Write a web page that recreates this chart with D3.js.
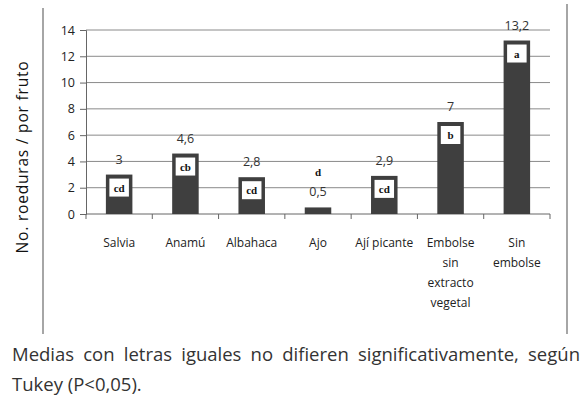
<!DOCTYPE html>
<meta charset="utf-8">
<style>
body { margin: 0; background: #fff; }
#chart { position: absolute; left: 0; top: 0; }
.nota {
  position: absolute; left: 12px; width: 568px;
  font-family: "Open Sans", sans-serif; font-size: 18.5px; line-height: 30px;
  color: #333; white-space: nowrap;
}
#nota1 { top: 339px; text-align: justify; text-align-last: justify; white-space: normal; }
#nota2 { top: 369px; }
</style>
<body>
<svg id="chart"></svg>
<div class="nota" id="nota1">Medias con letras iguales no difieren significativamente, según</div>
<div class="nota" id="nota2">Tukey (P&lt;0,05).</div>
<script src="https://d3js.org/d3.v7.min.js"></script>
<script>

var width = 586,
    height = 403;

var categorias = ["Salvia", "Anamú", "Albahaca", "Ajo", "Ají picante", "Embolse sin extracto vegetal", "Sin embolse"];
var etiquetas = [["Salvia"], ["Anamú"], ["Albahaca"], ["Ajo"], ["Ají picante"], ["Embolse", "sin", "extracto", "vegetal"], ["Sin", "embolse"]];
var valores = [3, 4.6, 2.8, 0.5, 2.9, 7, 13.2];
var letras = ["cd", "cb", "cd", "d", "cd", "b", "a"];
var yTicks = [0, 2, 4, 6, 8, 10, 12, 14];

var svg = d3.select("#chart")
    .attr("width", width)
    .attr("height", height);

var x = d3.scaleBand()
    .domain(categorias)
    .range([86, 550])
    .paddingInner(0.6)
    .paddingOuter(0.3);

var y = d3.scaleLinear()
    .domain([0, 14])
    .range([214, 30]);

// frame (only the vertical sides are visible)
svg.append("line").attr("x1", 43).attr("x2", 43).attr("y1", 8).attr("y2", 334)
    .attr("stroke", "#888").attr("stroke-width", 1.5);
svg.append("line").attr("x1", 567).attr("x2", 567).attr("y1", 4).attr("y2", 334)
    .attr("stroke", "#888").attr("stroke-width", 1.5);

// gridlines
svg.append("g")
  .selectAll("line")
  .data(yTicks.slice(1))
  .enter().append("line")
    .attr("x1", 86).attr("x2", 550)
    .attr("y1", function(d) { return y(d); })
    .attr("y2", function(d) { return y(d); })
    .attr("stroke", "#8a8a8a")
    .attr("stroke-width", 1);

// y axis
var gy = svg.append("g")
    .attr("transform", "translate(86,0)")
    .call(d3.axisLeft(y).tickValues(yTicks).tickSize(6).tickPadding(5));
gy.selectAll("text")
    .attr("font-family", "'Open Sans', sans-serif")
    .attr("font-size", 12.5).attr("fill", "#222");
gy.selectAll("line, path").attr("stroke", "#666");

// x axis with ticks at band boundaries
var bordes = d3.range(categorias.length + 1).map(function(i) { return 86 + i * (464 / categorias.length); });
svg.append("line").attr("x1", 86).attr("x2", 550).attr("y1", y(0)).attr("y2", y(0))
    .attr("stroke", "#666");
svg.append("g")
  .selectAll("line")
  .data(bordes)
  .enter().append("line")
    .attr("x1", function(d) { return d; })
    .attr("x2", function(d) { return d; })
    .attr("y1", y(0)).attr("y2", y(0) + 5)
    .attr("stroke", "#666");

// category labels
svg.append("g")
  .selectAll("text")
  .data(categorias)
  .enter().append("text")
    .attr("x", function(d) { return x(d) + x.bandwidth() / 2; })
    .attr("y", 247)
    .attr("text-anchor", "middle")
    .attr("font-family", "'Open Sans', sans-serif")
    .attr("font-size", 12)
    .attr("fill", "#222")
    .each(function(d, i) {
      var t = d3.select(this);
      etiquetas[i].forEach(function(l, j) {
        t.append("tspan")
          .attr("x", x(d) + x.bandwidth() / 2)
          .attr("dy", j === 0 ? 0 : 20)
          .text(l);
      });
    });

// bars
var barras = svg.append("g")
  .selectAll("g")
  .data(categorias)
  .enter().append("g");

function val(d) { return valores[categorias.indexOf(d)]; }

barras.append("rect")
    .attr("x", function(d) { return x(d); })
    .attr("width", x.bandwidth())
    .attr("y", function(d) { return y(val(d)); })
    .attr("height", function(d) { return y(0) - y(val(d)); })
    .attr("fill", "#3f3f3f");

// white boxes with letters (inside bar when tall enough)
barras.filter(function(d) { return val(d) > 1; })
  .append("rect")
    .attr("x", function(d) { return x(d) + 3.5; })
    .attr("width", x.bandwidth() - 7)
    .attr("y", function(d) { return y(val(d)) + 4; })
    .attr("height", 18)
    .attr("fill", "#fff");

barras.append("text")
    .attr("x", function(d) { return x(d) + x.bandwidth() / 2; })
    .attr("y", function(d) { return val(d) > 1 ? y(val(d)) + 17 : y(val(d)) - 31; })
    .attr("text-anchor", "middle")
    .attr("font-family", "'Liberation Serif', serif")
    .attr("font-weight", "bold")
    .attr("font-size", 11)
    .attr("fill", "#111")
    .text(function(d) { return letras[categorias.indexOf(d)]; });

// value labels
barras.append("text")
    .attr("x", function(d) { return x(d) + x.bandwidth() / 2; })
    .attr("y", function(d) { return y(val(d)) - 11; })
    .attr("text-anchor", "middle")
    .attr("font-family", "'Open Sans', sans-serif")
    .attr("font-size", 12.5)
    .attr("fill", "#333")
    .text(function(d) { return String(val(d)).replace(".", ","); });

// y axis title
svg.append("text")
    .attr("transform", "translate(28,157) rotate(-90)")
    .attr("text-anchor", "middle")
    .attr("font-family", "'Open Sans', sans-serif")
    .attr("font-size", 15.5)
    .attr("letter-spacing", 0.8)
    .attr("fill", "#111")
    .text("No. roeduras / por fruto");

</script>
